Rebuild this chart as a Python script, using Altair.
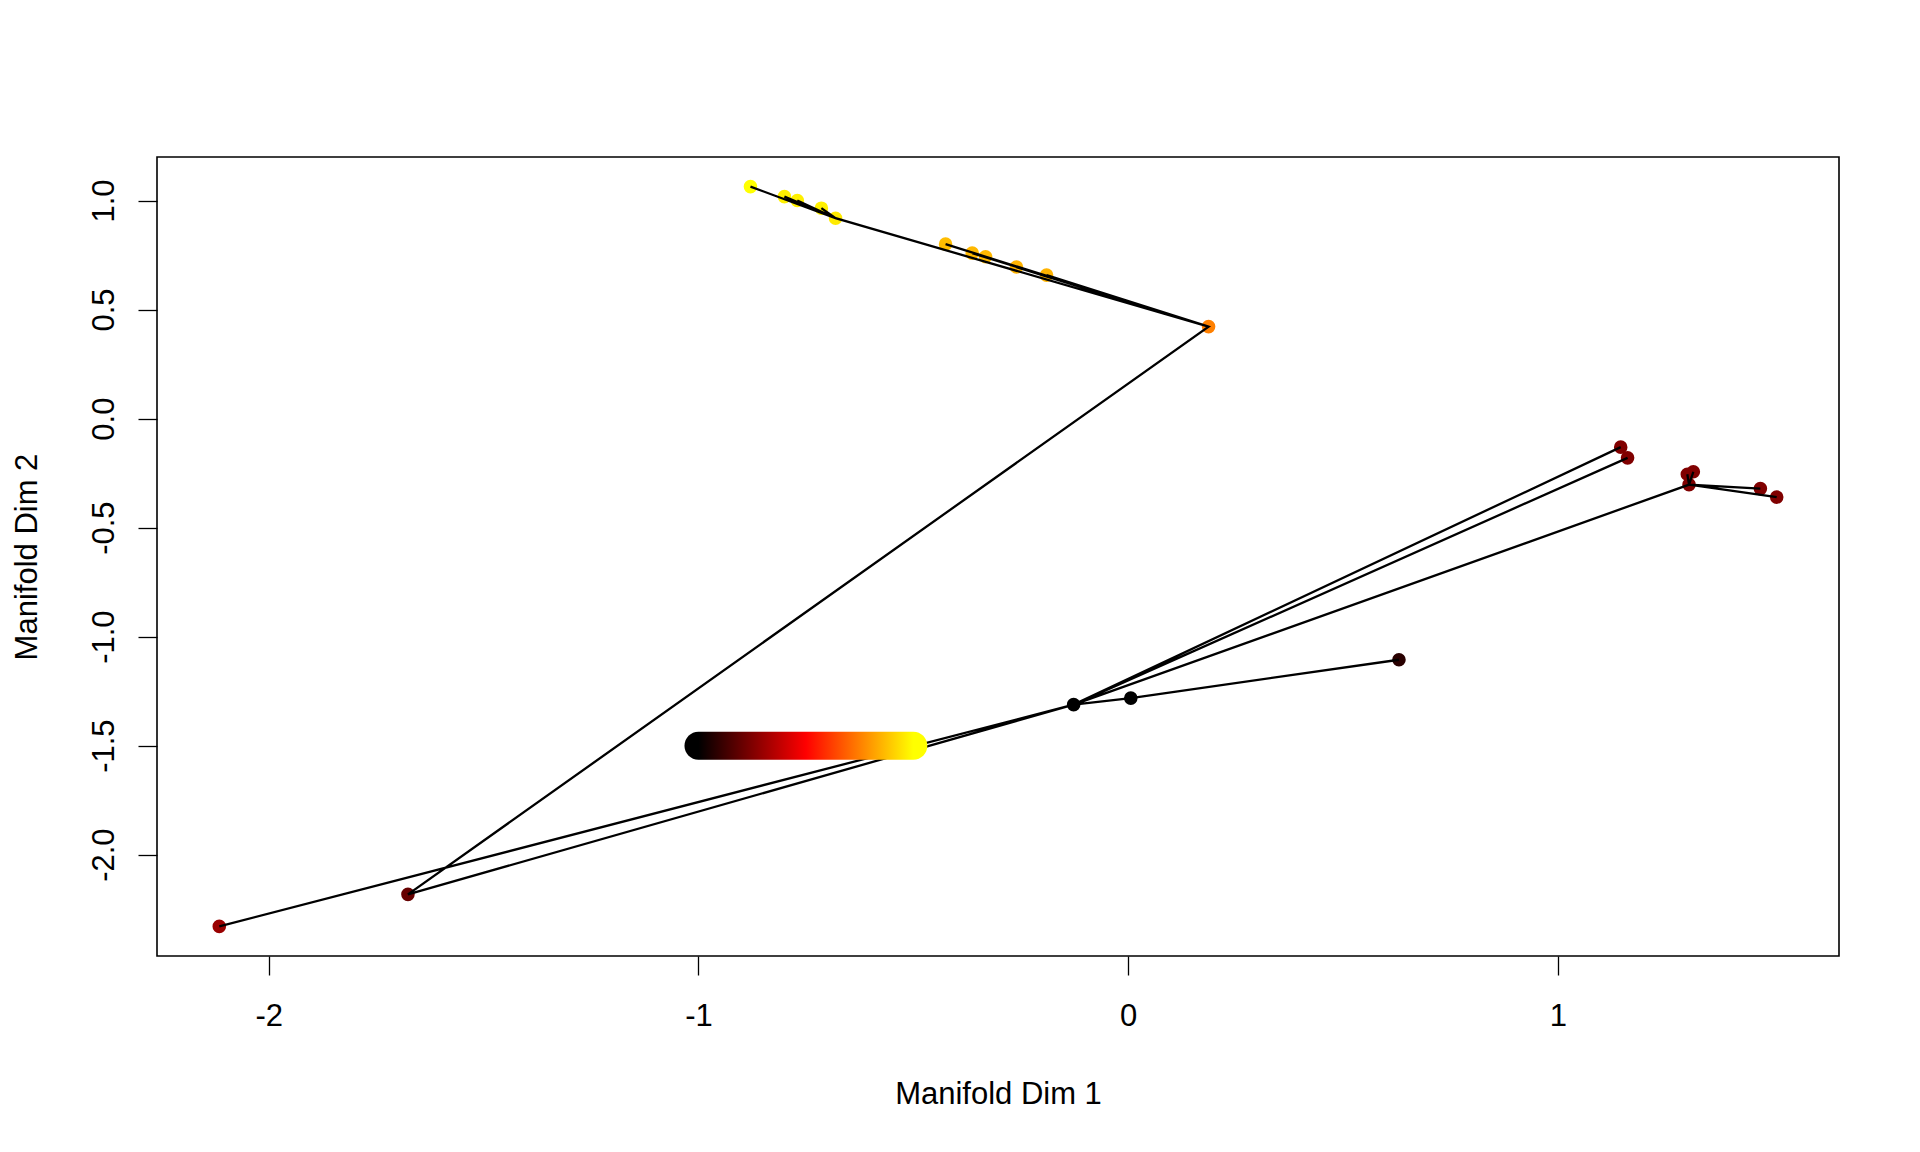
import numpy as np
import pandas as pd
import altair as alt

# points of the trajectory
names = ["A", "B", "C", "D", "E", "F1", "F2", "H1", "H2", "H3", "I1", "I2",
         "O", "G1", "G2", "G3", "G4", "G5", "Y1", "Y2", "Y3", "Y4", "Y5"]
dim1 = [-2.115, -1.676, -0.127, 0.006, 0.630, 1.146, 1.162, 1.301, 1.315, 1.305, 1.471, 1.509,
        0.187, -0.425, -0.363, -0.332, -0.260, -0.190, -0.879, -0.800, -0.770, -0.714, -0.681]
dim2 = [-2.329, -2.182, -1.312, -1.282, -1.106, -0.131, -0.180, -0.255, -0.244, -0.303, -0.321, -0.360,
        0.422, 0.800, 0.759, 0.742, 0.695, 0.658, 1.064, 1.018, 1.000, 0.965, 0.919]
# time of each point: 0 = start (black) .. 1 = end (yellow)
tval = [0.30, 0.20, 0.00, 0.00, 0.08, 0.25, 0.25, 0.25, 0.25, 0.25, 0.25, 0.25,
        0.75, 0.87, 0.86, 0.86, 0.85, 0.85, 1.00, 0.97, 0.97, 0.97, 0.96]

# order in which the points are joined
path = ["C", "D", "E", "D", "C", "F1", "C", "F2", "C", "H3", "H1", "H3", "H2", "H3",
        "I1", "H3", "I2", "H3", "C", "B", "C", "A", "C", "B", "O",
        "G1", "O", "G2", "O", "G3", "O", "G4", "O", "G5", "O",
        "Y5", "Y4", "Y5", "Y3", "Y5", "Y2", "Y5", "Y1"]

# colour key drawn inside the plot
hot = ["#000000", "#ff0000", "#ffff00"]
key_x = [-1.0, -0.5]
key_y = -1.5

x_ticks = [-2, -1, 0, 1]
y_ticks = [-2.0, -1.5, -1.0, -0.5, 0.0, 0.5, 1.0]

pts = pd.DataFrame({"name": names, "dim1": dim1, "dim2": dim2, "t": tval})
lookup = pts.set_index("name")
line_df = pd.DataFrame({
    "step": range(len(path)),
    "dim1": [lookup.loc[p, "dim1"] for p in path],
    "dim2": [lookup.loc[p, "dim2"] for p in path],
})
key_df = pd.DataFrame({"x0": [key_x[0]], "x1": [key_x[1]], "y": [key_y]})


def r_range(v):
    v = np.asarray(v)
    ext = 0.04 * (v.max() - v.min())
    return [float(v.min() - ext), float(v.max() + ext)]


FONT = "Liberation Sans"
FS = 31

xs = alt.Scale(domain=r_range(dim1), nice=False, zero=False)
ys = alt.Scale(domain=r_range(dim2), nice=False, zero=False)

x_axis = alt.Axis(
    values=x_ticks, title="Manifold Dim 1", grid=False, domain=False,
    labelExpr="datum.value < 0 ? '-' + format(-datum.value, 'd') : format(datum.value, 'd')",
    tickSize=19, tickWidth=1.3, tickColor="black",
    labelPadding=50, labelBaseline="alphabetic", labelFlush=False, labelOverlap=False,
    labelFont=FONT, labelFontSize=FS, labelColor="black",
    titleFont=FONT, titleFontSize=FS, titleFontWeight="normal", titleColor="black",
    titleBaseline="alphabetic", titleY=147,
)
y_axis = alt.Axis(
    values=y_ticks, title="Manifold Dim 2", grid=False, domain=False,
    labelExpr="datum.value < 0 ? '-' + format(-datum.value, '.1f') : format(datum.value, '.1f')",
    tickSize=19, tickWidth=1.3, tickColor="black",
    labelAngle=270, labelAlign="center", labelBaseline="alphabetic", labelPadding=25,
    labelFlush=False, labelOverlap=False,
    labelFont=FONT, labelFontSize=FS, labelColor="black",
    titleFont=FONT, titleFontSize=FS, titleFontWeight="normal", titleColor="black",
    titleAngle=270, titleBaseline="alphabetic", titleX=-121,
)

points = alt.Chart(pts).mark_circle(size=185, opacity=1).encode(
    x=alt.X("dim1:Q", scale=xs, axis=x_axis),
    y=alt.Y("dim2:Q", scale=ys, axis=y_axis),
    color=alt.Color("t:Q", scale=alt.Scale(domain=[0, 0.5, 1], range=hot, interpolate="rgb"), legend=None),
)

lines = alt.Chart(line_df).mark_line(color="black", strokeWidth=2.3).encode(
    x=alt.X("dim1:Q", scale=xs),
    y=alt.Y("dim2:Q", scale=ys),
    order="step:Q",
)

grad = alt.LinearGradient(
    gradient="linear", x1=0, x2=1, y1=0, y2=0,
    stops=[
        alt.GradientStop(offset=0, color=hot[0]),
        alt.GradientStop(offset=0.058, color=hot[0]),
        alt.GradientStop(offset=0.5, color=hot[1]),
        alt.GradientStop(offset=0.942, color=hot[2]),
        alt.GradientStop(offset=1, color=hot[2]),
    ],
)
key = alt.Chart(key_df).mark_rect(
    fill=grad, cornerRadius=14, xOffset=-14, x2Offset=14, yOffset=-14, y2Offset=14
).encode(
    x=alt.X("x0:Q", scale=xs),
    x2="x1:Q",
    y=alt.Y("y:Q", scale=ys),
    y2="y:Q",
)

chart = (
    alt.layer(points, lines, key)
    .properties(
        width=1682, height=799,
        background="white",
        autosize=alt.AutoSizeParams(type="none"),
        padding={"left": 149, "top": 149, "right": 70, "bottom": 170},
    )
    .configure_view(stroke="black", strokeWidth=1.6, strokeOpacity=1)
)

chart.save("out.html", embed_options={"renderer": "svg", "actions": False})
